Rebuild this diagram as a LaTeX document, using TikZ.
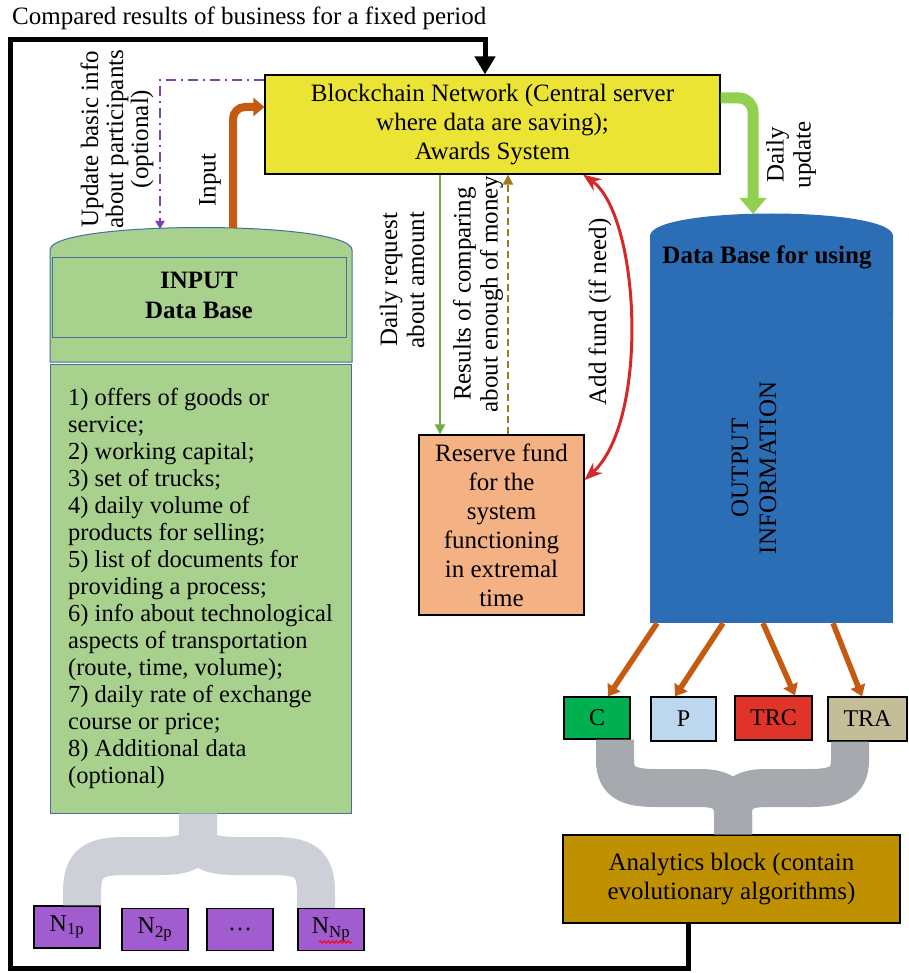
\documentclass[tikz,border=0pt]{standalone}
\usepackage{fontspec}
\setmainfont{Liberation Serif}
\usetikzlibrary{arrows.meta,decorations.pathmorphing}
\definecolor{bcyellow}{RGB}{236,228,52}
\definecolor{ingreen}{RGB}{169,209,142}
\definecolor{inblue}{RGB}{65,113,156}
\definecolor{outblue}{RGB}{44,110,182}
\definecolor{salmon}{RGB}{244,177,131}
\definecolor{orarr}{RGB}{197,90,17}
\definecolor{cgreen}{RGB}{0,176,80}
\definecolor{plblue}{RGB}{189,215,238}
\definecolor{trcred}{RGB}{224,52,42}
\definecolor{traolive}{RGB}{196,189,151}
\definecolor{angold}{RGB}{191,144,0}
\definecolor{npurple}{RGB}{161,93,208}
\definecolor{ddpurple}{RGB}{128,64,176}
\definecolor{dashbrown}{RGB}{160,120,30}
\definecolor{thingreen}{RGB}{112,173,71}
\definecolor{dugreen}{RGB}{146,208,80}
\definecolor{lgrey}{RGB}{205,208,214}
\definecolor{dgrey}{RGB}{166,169,174}
\definecolor{afred}{RGB}{214,40,40}
\begin{document}
\begin{tikzpicture}[x=1pt,y=-1pt,
  f/.style={font=\fontsize{25}{29}\selectfont},
  blk/.style={draw=black, line width=1.2pt, inner sep=0pt, align=center, f},
  smallbox/.style={blk, font=\fontsize{24}{28}\selectfont},
  lbl/.style={font=\fontsize{25}{27}\selectfont, align=center, inner sep=0pt, rotate=90},
  bracepath/.style={line width=38pt, line cap=butt, line join=round},
  fb/.style={line width=5pt, black, line join=miter, -{Triangle[width=20pt,length=18pt]}},
  orangearrow/.style={line width=5.5pt, orarr, -{Triangle[width=15pt,length=11pt]}},
]
\fill[white] (0,0) rectangle (908,973);
\useasboundingbox (0,0) rectangle (908,973);

% title
\node[f, inner sep=0pt, anchor=base west] (title) at (12,25) {Compared results of business for a fixed period};

% blockchain box
\node[blk, fill=bcyellow, minimum width=455pt, minimum height=99pt] (bc) at (492.5,124.5)
  {Blockchain Network (Central server\\where data are saving);\\Awards System};

% input cylinder
\fill[ingreen, draw=inblue, line width=1pt] (50,362) -- (50,250) .. controls (50,220) and (352,220) .. (352,250) -- (352,362) -- cycle;
\draw[inblue, line width=1pt] (52,258) rectangle (346,337);
\node[font=\fontsize{25}{30}\selectfont\bfseries, align=center] (indb) at (199,295) {INPUT\\Data Base};
\coordinate (intop) at (233,228);
\coordinate (ddend) at (160,229);
\node[draw=inblue, line width=1pt, fill=ingreen, minimum width=301pt, minimum height=449pt, inner sep=0pt,
      align=left, font=\fontsize{24.5}{27}\selectfont] (inlist) at (200.5,588.5)
  {1) offers of goods or\\service;\\2) working capital;\\3) set of trucks;\\4) daily volume of\\products for selling;\\5) list of documents for\\providing a process;\\6) info about technological\\aspects of transportation\\(route, time, volume);\\7) daily rate of exchange\\course or price;\\8) Additional data\\(optional)};

% output cylinder
\fill[outblue] (650,318) -- (650,236) .. controls (650,206) and (893,206) .. (893,236) -- (893,318) -- cycle;
\node[font=\fontsize{25}{30}\selectfont\bfseries] (outdb) at (767,257) {Data Base for using};
\coordinate (dutop) at (753,214);
\node[fill=outblue, minimum width=243pt, minimum height=308pt, inner sep=0pt] (ol) at (771.5,469) {};
\node[lbl, font=\fontsize{25}{28}\selectfont] (outtxt) at (754,468) {OUTPUT\\INFORMATION};

% reserve fund
\node[blk, fill=salmon, minimum width=165pt, minimum height=180pt] (rf) at (501.5,525)
  {Reserve fund\\for the\\system\\functioning\\in extremal\\time};

% output boxes
\node[smallbox, fill=cgreen, minimum width=66pt, minimum height=42pt] (c) at (597,718) {C};
\node[smallbox, fill=plblue, minimum width=65pt, minimum height=44pt] (p) at (683.5,719) {P};
\node[smallbox, fill=trcred, minimum width=77pt, minimum height=44pt] (trc) at (773.5,718) {TRC};
\node[smallbox, fill=traolive, minimum width=79pt, minimum height=44pt] (tra) at (867.5,719) {TRA};

% analytics block
\node[blk, fill=angold, minimum width=337pt, minimum height=88pt] (an) at (731.5,879)
  {Analytics block (contain\\evolutionary algorithms)};

% participant boxes
\node[smallbox, fill=npurple, minimum width=66pt, minimum height=42pt] (n1) at (67,927) {N\textsubscript{1p}};
\node[smallbox, fill=npurple, minimum width=66pt, minimum height=42pt] (n2) at (155,929.5) {N\textsubscript{2p}};
\node[smallbox, fill=npurple, minimum width=66pt, minimum height=42pt] (n3) at (240,929.5) {\ldots};
\node[smallbox, fill=npurple, minimum width=66pt, minimum height=42pt] (n4) at (331,929.5) {N\textsubscript{Np}};
\draw[red, line width=1pt, decorate, decoration={snake, amplitude=1.2pt, segment length=4pt}] (319,942) -- (352,942);

% braces
\draw[bracepath, lgrey] ([xshift=15pt]n1.north) -- (82,892) .. controls (82,862) and (95,856) .. (125,856) -- (160,856) .. controls (188,856) and (198,850) .. (198,832) -- ([xshift=-2.5pt]inlist.south);
\draw[bracepath, lgrey] ([xshift=-15pt]n4.north) -- (316,892) .. controls (316,862) and (303,856) .. (273,856) -- (236,856) .. controls (208,856) and (198,850) .. (198,832) -- ([xshift=-2.5pt]inlist.south);
\draw[bracepath, dgrey] ([xshift=18pt]c.south) -- (615,760) .. controls (615,782) and (628,788) .. (655,788) -- (700,788) .. controls (725,788) and (733,797) .. (733,815) -- ([xshift=1.5pt]an.north);
\draw[bracepath, dgrey] ([xshift=-17.5pt]tra.south) -- (850,760) .. controls (850,782) and (837,788) .. (810,788) -- (766,788) .. controls (741,788) and (733,797) .. (733,815) -- ([xshift=1.5pt]an.north);

% connectors
\draw[ddpurple, line width=2pt, dash pattern=on 10pt off 5pt on 2pt off 5pt, -{Triangle[width=9pt,length=8pt]}]
  ([yshift=44.5pt]bc.west) -| (ddend);
\draw[orarr, line width=8pt, rounded corners=12pt, -{Triangle[width=18pt,length=11pt]}]
  (intop) |- ([yshift=17.5pt]bc.west);
\draw[dugreen, line width=11pt, rounded corners=14pt, -{Triangle[width=26pt,length=16pt]}]
  ([yshift=26.5pt]bc.east) -| (dutop);
\draw[thingreen, line width=2pt, -{Triangle[width=10pt,length=10pt]}]
  ([xshift=-52.5pt]bc.south) -- ([xshift=-61.5pt]rf.north);
\draw[dashbrown, line width=2.2pt, dash pattern=on 7pt off 4pt, -{Triangle[width=10pt,length=10pt]}]
  ([xshift=6.5pt]rf.north) -- ([xshift=15.5pt]bc.south);
\draw[afred, line width=3pt, {Stealth[length=18pt,width=14pt]}-{Stealth[length=18pt,width=14pt]}]
  ([xshift=90.5pt]bc.south) .. controls (640,215) and (650,420) .. ([yshift=45pt]rf.east);

\draw[orangearrow] ([xshift=-114.5pt]ol.south) -- ([xshift=11pt]c.north);
\draw[orangearrow] ([xshift=-48.5pt]ol.south) -- ([xshift=-8.5pt]p.north);
\draw[orangearrow] ([xshift=-8.5pt]ol.south) -- ([xshift=21.5pt]trc.north);
\draw[orangearrow] ([xshift=61.5pt]ol.south) -- ([xshift=-5.5pt]tra.north);

\draw[fb] ([xshift=-43.5pt]an.south) |- (10,968) -- (10,40) -| ([xshift=-7.5pt]bc.north);

% labels
\node[lbl, font=\fontsize{25}{25}\selectfont] (lupd) at (117,139) {Update basic info\\about participants\\(optional)};
\node[lbl] (linp) at (210,180) {Input};
\node[lbl] (ldr) at (402,280) {Daily request\\about amount};
\node[lbl] (lrc) at (478,294) {Results of comparing\\about enough of money};
\node[lbl] (laf) at (600,312) {Add fund (if need)};
\node[lbl] (ldu) at (791,155) {Daily\\update};
\end{tikzpicture}
\end{document}
